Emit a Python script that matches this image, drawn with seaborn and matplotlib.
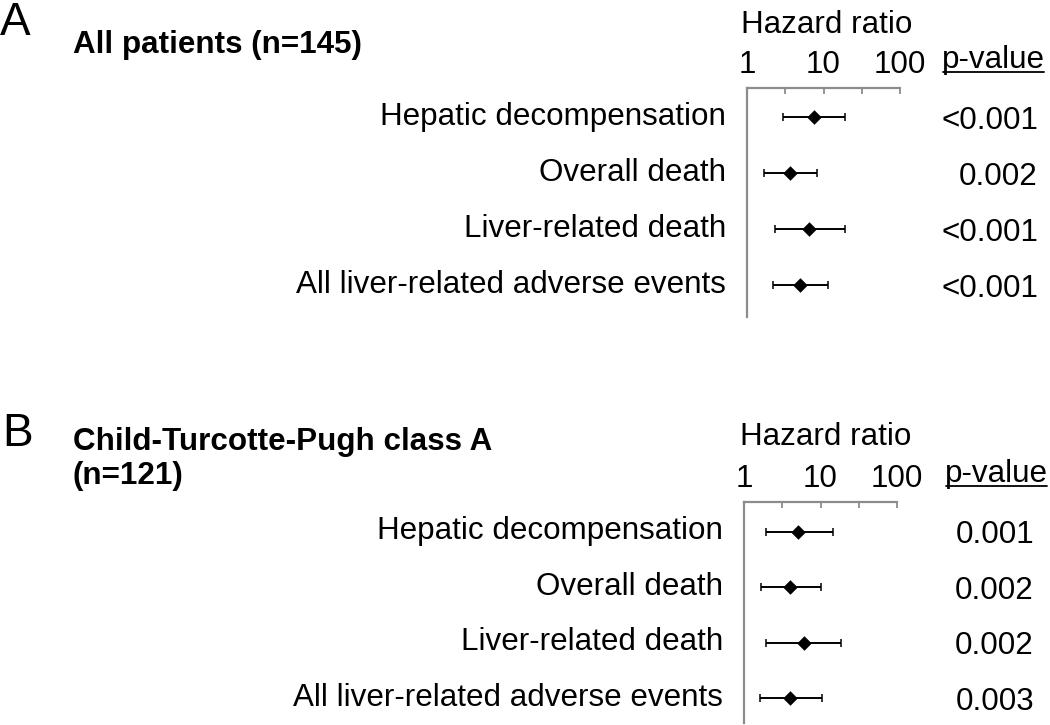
import numpy as np
import pandas as pd
import matplotlib
matplotlib.use("Agg")
import matplotlib.pyplot as plt
import matplotlib.transforms as mtransforms
from matplotlib.lines import Line2D
from matplotlib.ticker import NullFormatter
import seaborn as sns

# outcomes shown in both panels
outcomes = ["Hepatic decompensation", "Overall death",
            "Liver-related death", "All liver-related adverse events"]

# panel A: all patients (n=145)
hr_a = [7.5, 3.6, 6.5, 4.9]
lo_a = [3.0, 1.67, 2.3, 2.2]
hi_a = [19.0, 8.3, 19.0, 11.6]
p_a = ["<0.001", "0.002", "<0.001", "<0.001"]

# panel B: Child-Turcotte-Pugh class A (n=121)
hr_b = [5.1, 4.0, 6.0, 4.0]
lo_b = [1.94, 1.65, 1.94, 1.62]
hi_b = [14.4, 10.1, 18.5, 10.4]
p_b = ["0.001", "0.002", "0.002", "0.003"]

major_ticks = [1, 10, 100]
minor_ticks = [10 ** 0.5, 10 ** 1.5]

sns.set_theme(style="white")
plt.rcParams["font.family"] = ["Liberation Sans", "DejaVu Sans"]
plt.rcParams["text.color"] = "black"
plt.rcParams["xtick.labelcolor"] = "black"
plt.rcParams["ytick.labelcolor"] = "black"

W, H = 1050, 725
FS = 22.6
fig = plt.figure(figsize=(W / 100, H / 100), dpi=100)
AXIS_GREY = "#8c8c8c"


def px(x, y):
    # figure pixel -> figure fraction
    return x / W, 1 - y / H


def forest(ax, hr, lo, hi, ylim):
    df = pd.DataFrame({"outcome": outcomes, "hr": hr, "lo": lo, "hi": hi,
                       "row": np.arange(len(outcomes))})
    ax.set_xscale("log")
    ax.errorbar(df["hr"], df["row"],
                xerr=[df["hr"] - df["lo"], df["hi"] - df["hr"]],
                fmt="none", ecolor="black", elinewidth=1.4,
                capsize=3, capthick=1.1, zorder=2)
    sns.scatterplot(data=df, x="hr", y="row", marker="D", s=55,
                    color="black", linewidth=0, legend=False, ax=ax, zorder=3)
    ax.set_xlim(1, 100)
    ax.set_ylim(*ylim)
    ax.set_xticks(major_ticks)
    ax.set_xticklabels([str(t) for t in major_ticks])
    ax.set_xticks(minor_ticks, minor=True)
    ax.xaxis.set_minor_formatter(NullFormatter())
    ax.tick_params(axis="x", which="both", direction="in", length=4,
                   width=1.3, color=AXIS_GREY, pad=6, labelsize=FS,
                   top=True, bottom=False, labeltop=True, labelbottom=False)
    ax.set_yticks(df["row"])
    ax.set_yticklabels(df["outcome"])
    ax.tick_params(axis="y", length=0, pad=15, labelsize=FS, left=False)
    # row labels sit a little above the marker line in the original
    shift = mtransforms.ScaledTranslation(0, 4 / 100, fig.dpi_scale_trans)
    for lab in ax.get_yticklabels():
        lab.set_transform(lab.get_transform() + shift)
    for side in ["right", "bottom"]:
        ax.spines[side].set_visible(False)
    for side in ["top", "left"]:
        ax.spines[side].set_color(AXIS_GREY)
        ax.spines[side].set_linewidth(1.6)
    ax.set_xlabel("")
    ax.set_ylabel("")
    return df


def pvalues(ax, pv, x_right):
    tr = mtransforms.blended_transform_factory(fig.transFigure, ax.transData)
    for i, p in enumerate(pv):
        ax.text(x_right / W, i, p, transform=tr, ha="right",
                va="center_baseline", fontsize=FS, color="black")


# ---- panel A
ax_a = fig.add_axes([747 / W, 1 - 317 / H, (900 - 747) / W, (317 - 88) / H])
forest(ax_a, hr_a, lo_a, hi_a, (3.57, -0.52))
pvalues(ax_a, p_a, 1038)

# ---- panel B
ax_b = fig.add_axes([744 / W, 1 - 723 / H, (897 - 744) / W, (723 - 502) / H])
forest(ax_b, hr_b, lo_b, hi_b, (3.45, -0.54))
pvalues(ax_b, p_b, 1034)

# panel letters and titles
fig.text(*px(0, 35), "A", fontsize=33, va="baseline")
fig.text(*px(2, 446), "B", fontsize=33, va="baseline")
fig.text(*px(73, 53), "All patients (n=145)", fontsize=FS,
         fontweight="bold", va="baseline")
fig.text(*px(73, 450), "Child-Turcotte-Pugh class A", fontsize=FS,
         fontweight="bold", va="baseline")
fig.text(*px(73, 484), "(n=121)", fontsize=FS, fontweight="bold",
         va="baseline")

fig.text(*px(827, 33), "Hazard ratio", fontsize=FS, ha="center",
         va="baseline")
fig.text(*px(826, 445), "Hazard ratio", fontsize=FS, ha="center",
         va="baseline")

hdr_a = fig.text(*px(942, 68), "p-value", fontsize=FS, va="baseline")
hdr_b = fig.text(*px(945, 482), "p-value", fontsize=FS, va="baseline")

# underline the p-value headers
fig.canvas.draw()
renderer = fig.canvas.get_renderer()
for t in (hdr_a, hdr_b):
    bb = t.get_window_extent(renderer)
    y = bb.y0 + 3
    fig.add_artist(Line2D([bb.x0 + 1, bb.x1 - 1], [y, y], color="black",
                          linewidth=1.3, transform=mtransforms.IdentityTransform()))

fig.savefig("out.png", dpi=100)
